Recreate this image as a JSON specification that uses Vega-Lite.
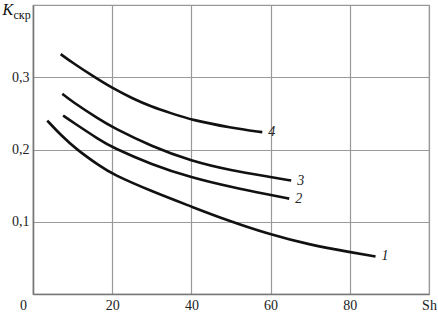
{
  "$schema": "https://vega.github.io/schema/vega-lite/v6.json",
  "width": 396,
  "height": 289,
  "autosize": {"type": "none"},
  "padding": {"left": 33, "top": 5, "right": 9, "bottom": 18},
  "background": "white",
  "config": {
    "view": {"stroke": "#999", "strokeWidth": 1.2},
    "font": "Times New Roman",
    "axis": {
      "ticks": false,
      "gridColor": "#999",
      "gridWidth": 1.2,
      "gridOpacity": 1,
      "domainColor": "#777",
      "domainWidth": 1.5,
      "titleColor": "#111",
      "titleFontWeight": "normal"
    }
  },
  "data": {
    "values": [
      {"curve": "1", "Sh": 3.6, "K": 0.240},
      {"curve": "1", "Sh": 7, "K": 0.220},
      {"curve": "1", "Sh": 11, "K": 0.200},
      {"curve": "1", "Sh": 16.9, "K": 0.177},
      {"curve": "1", "Sh": 20, "K": 0.166},
      {"curve": "1", "Sh": 30, "K": 0.142},
      {"curve": "1", "Sh": 40, "K": 0.121},
      {"curve": "1", "Sh": 48, "K": 0.104},
      {"curve": "1", "Sh": 60, "K": 0.082},
      {"curve": "1", "Sh": 70, "K": 0.068},
      {"curve": "1", "Sh": 80, "K": 0.058},
      {"curve": "1", "Sh": 86.5, "K": 0.052},
      {"curve": "2", "Sh": 7.6, "K": 0.247},
      {"curve": "2", "Sh": 10, "K": 0.238},
      {"curve": "2", "Sh": 16.9, "K": 0.213},
      {"curve": "2", "Sh": 20, "K": 0.203},
      {"curve": "2", "Sh": 30, "K": 0.179},
      {"curve": "2", "Sh": 40, "K": 0.161},
      {"curve": "2", "Sh": 50, "K": 0.148},
      {"curve": "2", "Sh": 60, "K": 0.137},
      {"curve": "2", "Sh": 64.7, "K": 0.132},
      {"curve": "3", "Sh": 7.4, "K": 0.277},
      {"curve": "3", "Sh": 9.7, "K": 0.267},
      {"curve": "3", "Sh": 16.9, "K": 0.241},
      {"curve": "3", "Sh": 20, "K": 0.231},
      {"curve": "3", "Sh": 30, "K": 0.204},
      {"curve": "3", "Sh": 40, "K": 0.184},
      {"curve": "3", "Sh": 50, "K": 0.171},
      {"curve": "3", "Sh": 60, "K": 0.162},
      {"curve": "3", "Sh": 65.2, "K": 0.157},
      {"curve": "4", "Sh": 7, "K": 0.332},
      {"curve": "4", "Sh": 10, "K": 0.320},
      {"curve": "4", "Sh": 15, "K": 0.302},
      {"curve": "4", "Sh": 20, "K": 0.285},
      {"curve": "4", "Sh": 25, "K": 0.271},
      {"curve": "4", "Sh": 30, "K": 0.259},
      {"curve": "4", "Sh": 35, "K": 0.250},
      {"curve": "4", "Sh": 40, "K": 0.241},
      {"curve": "4", "Sh": 50, "K": 0.230},
      {"curve": "4", "Sh": 57.9, "K": 0.224}
    ]
  },
  "encoding": {
    "x": {
      "field": "Sh",
      "type": "quantitative",
      "scale": {"domain": [0, 100], "nice": false, "zero": true},
      "axis": {
        "values": [0, 20, 40, 60, 80, 100],
        "labelExpr": "datum.value == 100 ? 'Sh' : datum.label",
        "labelFont": "Times New Roman",
        "labelFontSize": 14,
        "labelColor": "#222",
        "labelPadding": 4,
        "labelOffset": {"condition": {"test": "datum.value == 0", "value": -10}, "value": 0},
        "labelFlush": false,
        "labelOverlap": false,
        "title": "скр",
        "titleFont": "Times New Roman",
        "titleFontSize": 12,
        "titleAngle": 0,
        "titleAlign": "left",
        "titleBaseline": "alphabetic",
        "titleX": -20,
        "titleY": -276
      }
    },
    "y": {
      "field": "K",
      "type": "quantitative",
      "scale": {"domain": [0, 0.4], "nice": false},
      "axis": {
        "values": [0, 0.1, 0.2, 0.3],
        "labelExpr": "datum.value == 0 ? '' : replace(format(datum.value, '.1f'), '.', ',')",
        "labelFont": "Times New Roman",
        "labelFontSize": 14,
        "labelColor": "#222",
        "labelPadding": 4,
        "labelFlush": false,
        "labelOverlap": false,
        "title": "K",
        "titleFont": "Times New Roman",
        "titleFontSize": 16,
        "titleFontStyle": "italic",
        "titleAngle": 0,
        "titleAlign": "left",
        "titleBaseline": "alphabetic",
        "titleX": -31,
        "titleY": 9
      }
    }
  },
  "layer": [
    {
      "mark": {"type": "line", "color": "#111", "strokeWidth": 2.6, "interpolate": "basis"},
      "encoding": {"detail": {"field": "curve"}}
    },
    {
      "transform": [
        {"joinaggregate": [{"op": "max", "field": "Sh", "as": "maxSh"}], "groupby": ["curve"]},
        {"filter": "datum.Sh == datum.maxSh"}
      ],
      "mark": {"type": "text", "align": "left", "baseline": "middle", "dx": 6, "fontSize": 14, "fontStyle": "italic", "font": "Times New Roman", "color": "#222"},
      "encoding": {"text": {"field": "curve"}}
    }
  ]
}
